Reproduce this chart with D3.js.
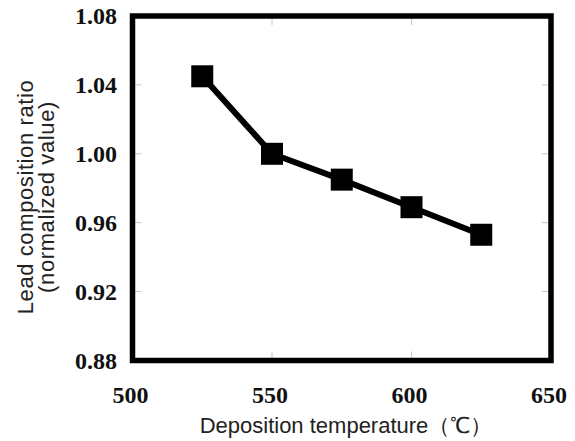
<!DOCTYPE html>
<html>
<head>
<meta charset="utf-8">
<script src="https://cdn.jsdelivr.net/npm/d3@7"></script>
<style>
  body { margin: 0; background: #fff; }
  svg { display: block; }
  .tick-label { font-family: "Liberation Serif", "Times New Roman", serif; font-weight: bold; font-size: 24px; fill: #111; }
  .title { font-family: "Liberation Sans", Arial, sans-serif; font-size: 22px; fill: #222; }
  .ytitle { letter-spacing: 0.6px; }
</style>
</head>
<body>
<div id="chart"></div>
<script>
// data
var temps = [525, 550, 575, 600, 625];
var ratios = [1.045, 1.000, 0.985, 0.969, 0.953];
var xTicks = [500, 550, 600, 650];
var yTicks = [0.88, 0.92, 0.96, 1.00, 1.04, 1.08];

var width = 575, height = 441;
var plotLeft = 132.5, plotRight = 551, plotTop = 16, plotBottom = 360.5;

var svg = d3.select("#chart").append("svg")
    .attr("width", width)
    .attr("height", height);

var x = d3.scaleLinear().domain([500, 650]).range([plotLeft, plotRight]);
var y = d3.scaleLinear().domain([0.88, 1.08]).range([plotBottom, plotTop]);

// small grey inner ticks
var tickLen = 9;
var g = svg.append("g").attr("stroke", "#c4c4c4").attr("stroke-width", 1);
yTicks.slice(1, -1).forEach(function(t) {
  g.append("line").attr("x1", plotLeft).attr("x2", plotLeft + tickLen).attr("y1", y(t)).attr("y2", y(t));
  g.append("line").attr("x1", plotRight - tickLen).attr("x2", plotRight).attr("y1", y(t)).attr("y2", y(t));
});
xTicks.slice(1, -1).forEach(function(t) {
  g.append("line").attr("x1", x(t)).attr("x2", x(t)).attr("y1", plotBottom).attr("y2", plotBottom - tickLen);
  g.append("line").attr("x1", x(t)).attr("x2", x(t)).attr("y1", plotTop).attr("y2", plotTop + tickLen);
});

// frame
svg.append("rect")
    .attr("x", plotLeft).attr("y", plotTop)
    .attr("width", plotRight - plotLeft).attr("height", plotBottom - plotTop)
    .attr("fill", "none")
    .attr("stroke", "#000")
    .attr("stroke-width", 5.5);

// tick labels
svg.selectAll(".ylab").data(yTicks).enter().append("text")
    .attr("class", "tick-label")
    .attr("x", 117)
    .attr("y", function(d) { return y(d) + 8; })
    .attr("text-anchor", "end")
    .text(function(d) { return d.toFixed(2); });

svg.selectAll(".xlab").data(xTicks).enter().append("text")
    .attr("class", "tick-label")
    .attr("x", function(d) { return x(d) - 2; })
    .attr("y", 403)
    .attr("text-anchor", "middle")
    .text(function(d) { return d; });

// line + markers
var line = d3.line()
    .x(function(d, i) { return x(temps[i]); })
    .y(function(d) { return y(d); });

svg.append("path")
    .datum(ratios)
    .attr("d", line)
    .attr("fill", "none")
    .attr("stroke", "#000")
    .attr("stroke-width", 6);

var size = 22;
svg.selectAll(".marker").data(ratios).enter().append("rect")
    .attr("x", function(d, i) { return x(temps[i]) - size / 2; })
    .attr("y", function(d) { return y(d) - size / 2; })
    .attr("width", size)
    .attr("height", size)
    .attr("fill", "#000");

// axis titles
svg.append("text")
    .attr("class", "title")
    .attr("x", 346)
    .attr("y", 433)
    .attr("text-anchor", "middle")
    .text("Deposition temperature（℃）");

var yt = svg.append("text")
    .attr("class", "title ytitle")
    .attr("transform", "translate(33,197) rotate(-90)")
    .attr("text-anchor", "middle");
yt.append("tspan").attr("x", 0).attr("y", 0).text("Lead composition ratio");
yt.append("tspan").attr("x", 0).attr("y", 20.5).text("(normalized value)");
</script>
</body>
</html>
